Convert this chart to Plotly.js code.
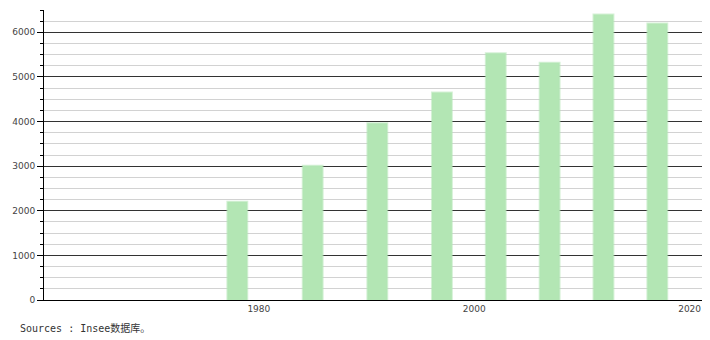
<!DOCTYPE html>
<html>
<head>
<meta charset="utf-8">
<script src="https://cdn.plot.ly/plotly-3.0.1.min.js"></script>
<style>html,body{margin:0;padding:0;background:#fff;}#chart{width:710px;height:340px;}</style>
</head>
<body>
<div id="chart"></div>
<script>
const years = [1978, 1985, 1991, 1997, 2002, 2007, 2012, 2017];
const values = [2200, 3010, 3960, 4650, 5530, 5320, 6400, 6200];
const xTickVals = [1980, 2000, 2020];
const xTickText = ['1980', '2000', '2020'];
const yTickVals = [0, 1000, 2000, 3000, 4000, 5000, 6000];
const sourceText = 'Sources : Insee数据库。';

const trace = {
  type: 'bar',
  x: years,
  y: values,
  width: 1.85,
  marker: {
    color: '#b3e6b4',
    line: {color: 'rgba(179,230,180,0.55)', width: 2}
  },
  hoverinfo: 'x+y'
};

const layout = {
  width: 710, height: 340,
  margin: {l: 44, r: 8, t: 10, b: 40},
  paper_bgcolor: '#fff', plot_bgcolor: '#fff',
  showlegend: false,
  bargap: 0,
  xaxis: {
    range: [1960.05, 2021.15],
    tickmode: 'array', tickvals: xTickVals, ticktext: xTickText,
    showgrid: false, zeroline: false,
    showline: true, linecolor: '#000', linewidth: 1,
    ticks: '', ticklen: 0,
    tickfont: {family: 'DejaVu Sans', size: 9, color: '#444'}
  },
  yaxis: {
    range: [0, 6500],
    tickmode: 'array', tickvals: yTickVals,
    showgrid: true, gridcolor: '#333', gridwidth: 1,
    zeroline: false,
    showline: true, linecolor: '#000', linewidth: 1,
    ticks: 'outside', ticklen: 6, tickcolor: '#000',
    tickfont: {family: 'DejaVu Sans', size: 9, color: '#444'},
    minor: {dtick: 250, showgrid: true, gridcolor: '#d2d2d2', gridwidth: 1, ticks: 'outside', ticklen: 3, tickcolor: '#000'}
  },
  annotations: [{
    xref: 'paper', yref: 'paper', x: -44/658, y: -28/290,
    xanchor: 'left', yanchor: 'middle', xshift: 18,
    text: sourceText, showarrow: false,
    font: {family: 'DejaVu Sans Mono, Noto Sans CJK SC', size: 10, color: '#333'}
  }]
};

Plotly.newPlot('chart', [trace], layout, {displayModeBar: false, staticPlot: true});
</script>
</body>
</html>
